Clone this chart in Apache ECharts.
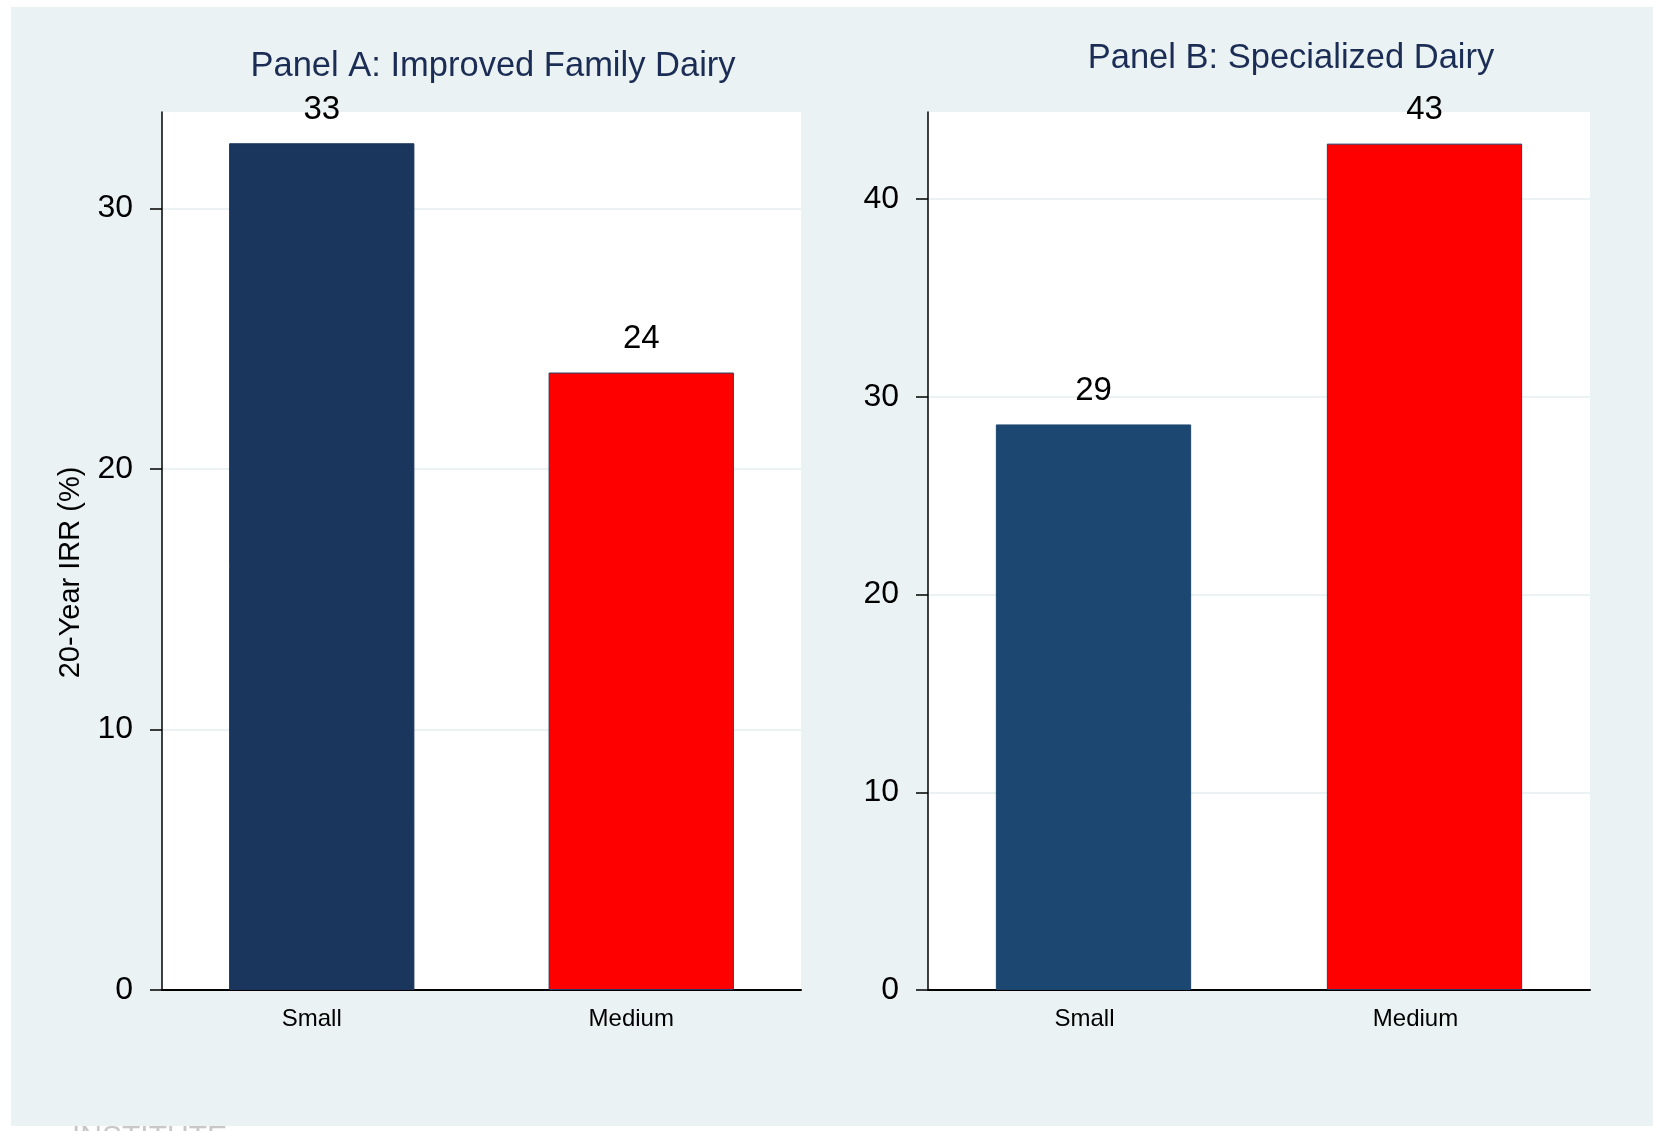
<!DOCTYPE html>
<html>
<head>
<meta charset="utf-8">
<script src="https://cdn.jsdelivr.net/npm/echarts@6/dist/echarts.min.js"></script>
<style>
html,body{margin:0;padding:0;background:#ffffff;}
#chart{width:1653px;height:1131px;}
</style>
</head>
<body>
<div id="chart"></div>
<script>
// ---- data ----
const categories = ['Small', 'Medium'];
const panelATitle = 'Panel A: Improved Family Dairy';
const panelBTitle = 'Panel B: Specialized Dairy';
const panelAValues = [32.5, 23.7];
const panelBValues = [28.6, 42.8];
const panelATicks = [0, 10, 20, 30];
const panelBTicks = [0, 10, 20, 30, 40];
const yAxisTitle = '20-Year IRR (%)';
const footerText = 'INSTITUTE';

const FONT = '"Liberation Sans", Arial, Helvetica, sans-serif';
const BG = '#EAF2F3';

function yAxisDef(maxVal, ticks, withName) {
  const ax = {
    type: 'value',
    min: 0,
    max: maxVal,
    interval: 10,
    axisLine: { show: true, lineStyle: { color: '#000', width: 1.5 } },
    axisTick: { show: true, inside: false, length: 12, customValues: ticks, lineStyle: { color: '#000', width: 1.5 } },
    axisLabel: { customValues: ticks, margin: 29, fontSize: 32, color: '#000', fontFamily: FONT },
    splitLine: { show: true, lineStyle: { color: BG, width: 2 } }
  };
  if (withName) {
    ax.name = yAxisTitle;
    ax.nameLocation = 'middle';
    ax.nameRotate = 90;
    ax.nameGap = 77;
    ax.nameTextStyle = { fontSize: 29, color: '#000', fontFamily: FONT, padding: [0, 43, 0, 0] };
  }
  return ax;
}

function xAxisDef(grid, pad) {
  return {
    type: 'category',
    gridIndex: grid,
    data: categories,
    axisLine: { show: true, onZero: false, lineStyle: { color: '#000', width: 2 } },
    axisTick: { show: false },
    axisLabel: { fontSize: 24, color: '#000', fontFamily: FONT, margin: 17, padding: [0, pad, 0, 0] },
    splitLine: { show: false }
  };
}

const labelDef = {
  show: true,
  position: 'top',
  distance: 17,
  fontSize: 33,
  color: '#000',
  fontFamily: FONT,
  formatter: p => String(Math.round(p.value))
};

const chart = echarts.init(document.getElementById('chart'), null, { renderer: 'canvas' });
const option = {
  backgroundColor: '#ffffff',
  animation: false,
  graphic: [
    { type: 'rect', z: -10, silent: true, shape: { x: 11, y: 7, width: 1642, height: 1119 }, style: { fill: BG } },
    { type: 'text', z: -11, silent: true, left: 72, top: 1123, style: { text: footerText, fontSize: 30, fill: '#c8c8c8', fontFamily: FONT } }
  ],
  title: [
    { text: panelATitle, left: 488, top: 44, textAlign: 'center', textStyle: { fontSize: 34.5, fontWeight: 'normal', color: '#1c2d55', fontFamily: FONT } },
    { text: panelBTitle, left: 1286, top: 36, textAlign: 'center', textStyle: { fontSize: 34.5, fontWeight: 'normal', color: '#1c2d55', fontFamily: FONT } }
  ],
  grid: [
    { left: 162, right: 852, top: 112, bottom: 141, show: true, backgroundColor: '#ffffff', borderWidth: 0, containLabel: false },
    { left: 928, right: 63, top: 112, bottom: 141, show: true, backgroundColor: '#ffffff', borderWidth: 0, containLabel: false }
  ],
  xAxis: [ xAxisDef(0, 20), xAxisDef(1, 18) ],
  yAxis: [
    Object.assign(yAxisDef(33.7, panelATicks, true), { gridIndex: 0 }),
    Object.assign(yAxisDef(44.4, panelBTicks, false), { gridIndex: 1 })
  ],
  series: [
    {
      type: 'bar', xAxisIndex: 0, yAxisIndex: 0, barWidth: '58%',
      data: [
        { value: panelAValues[0], itemStyle: { color: '#1b365d', borderColor: '#1b365d', borderWidth: 1 } },
        { value: panelAValues[1], itemStyle: { color: '#ff0000', borderColor: '#2a3a66', borderWidth: 1 } }
      ],
      label: labelDef
    },
    {
      type: 'bar', xAxisIndex: 1, yAxisIndex: 1, barWidth: '59%',
      data: [
        { value: panelBValues[0], itemStyle: { color: '#1c4770', borderColor: '#1c4770', borderWidth: 1 } },
        { value: panelBValues[1], itemStyle: { color: '#ff0000', borderColor: '#2a3a66', borderWidth: 1 } }
      ],
      label: labelDef
    }
  ]
};
chart.setOption(option);
</script>
</body>
</html>
